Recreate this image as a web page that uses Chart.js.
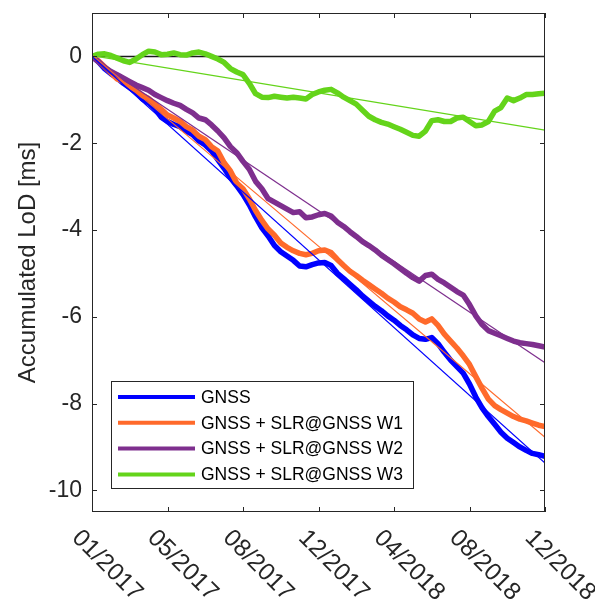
<!DOCTYPE html>
<html>
<head>
<meta charset="utf-8">
<script src="https://cdn.jsdelivr.net/npm/chart.js@4.4.1/dist/chart.umd.min.js"></script>
<style>
  html, body { margin: 0; padding: 0; background: #fff; }
</style>
</head>
<body>
<canvas id="lodChart" width="595" height="604"></canvas>
<script>
// days since 01/01/2017
const days = [0, 10, 20, 30, 40, 50, 60, 70, 80, 90, 100, 110, 120, 130, 140, 150, 160, 170, 180, 190,
    200, 210, 220, 230, 240, 250, 260, 270, 280, 290, 300, 310, 320, 330, 340, 350, 360, 370, 380, 390,
    400, 410, 420, 430, 440, 450, 460, 470, 480, 490, 500, 510, 520, 530, 540, 550, 560, 570, 580, 590,
    600, 610, 620, 630, 640, 650, 660, 670, 680, 690, 700, 710, 720];

const gnss = [0, -0.12, -0.28, -0.40, -0.50, -0.62, -0.72, -0.82, -0.98, -1.07, -1.20, -1.40, -1.50, -1.57,
    -1.62, -1.72, -1.80, -1.95, -2.04, -2.18, -2.38, -2.58, -2.80, -2.98, -3.18, -3.42, -3.70, -3.95,
    -4.14, -4.36, -4.50, -4.60, -4.70, -4.83, -4.85, -4.80, -4.76, -4.75, -4.82, -5.00, -5.12, -5.25,
    -5.38, -5.52, -5.64, -5.76, -5.86, -5.98, -6.08, -6.20, -6.30, -6.42, -6.50, -6.52, -6.48, -6.62,
    -6.82, -7.00, -7.15, -7.30, -7.55, -7.85, -8.10, -8.30, -8.48, -8.66, -8.80, -8.90, -9.00, -9.08,
    -9.15, -9.18, -9.22];

const slrW1 = [0, -0.10, -0.24, -0.38, -0.52, -0.58, -0.68, -0.78, -0.90, -0.97, -1.10, -1.22, -1.35, -1.42,
    -1.50, -1.62, -1.70, -1.84, -1.92, -2.08, -2.18, -2.45, -2.64, -2.92, -3.05, -3.28, -3.55, -3.78,
    -3.98, -4.12, -4.30, -4.40, -4.48, -4.54, -4.57, -4.54, -4.48, -4.46, -4.52, -4.68, -4.82, -4.95,
    -5.05, -5.16, -5.26, -5.36, -5.46, -5.57, -5.66, -5.77, -5.84, -5.92, -6.05, -6.12, -6.05, -6.20,
    -6.40, -6.56, -6.72, -6.90, -7.10, -7.38, -7.65, -7.90, -8.05, -8.14, -8.22, -8.30, -8.36, -8.40,
    -8.45, -8.50, -8.53];

const slrW2 = [0, -0.12, -0.25, -0.35, -0.42, -0.50, -0.58, -0.66, -0.72, -0.78, -0.88, -0.95, -1.02, -1.08,
    -1.13, -1.22, -1.30, -1.42, -1.46, -1.58, -1.72, -1.88, -2.08, -2.22, -2.42, -2.60, -2.88, -3.05,
    -3.28, -3.36, -3.44, -3.52, -3.60, -3.58, -3.72, -3.70, -3.65, -3.62, -3.68, -3.82, -3.92, -4.04,
    -4.15, -4.27, -4.36, -4.46, -4.58, -4.68, -4.78, -4.89, -5.00, -5.10, -5.18, -5.05, -5.02, -5.14,
    -5.22, -5.32, -5.42, -5.50, -5.72, -5.98, -6.18, -6.32, -6.38, -6.44, -6.50, -6.56, -6.60, -6.62,
    -6.64, -6.67, -6.70];

const slrW3 = [0, 0.05, 0.06, 0.02, -0.04, -0.10, -0.14, -0.06, 0.04, 0.12, 0.10, 0.04, 0.05, 0.08,
    0.04, 0.03, 0.08, 0.10, 0.06, 0.0, -0.06, -0.14, -0.28, -0.36, -0.42, -0.62, -0.86, -0.94,
    -0.95, -0.92, -0.94, -0.96, -0.94, -0.96, -0.98, -0.88, -0.82, -0.78, -0.76, -0.84, -0.94, -1.02,
    -1.10, -1.24, -1.38, -1.46, -1.52, -1.56, -1.62, -1.68, -1.75, -1.82, -1.84, -1.72, -1.48, -1.46,
    -1.50, -1.50, -1.42, -1.40, -1.50, -1.60, -1.58, -1.50, -1.26, -1.18, -0.96, -1.02, -0.96, -0.88,
    -0.88, -0.86, -0.85];

// linear trends (start / end of the period)
const trendDays = [0, 720];
const gnssTrend = [0, -9.37];
const slrW1Trend = [0.03, -8.78];
const slrW2Trend = [-0.05, -7.06];
const slrW3Trend = [0.02, -1.70];

const seriesNames = ['GNSS', 'GNSS + SLR@GNSS W1', 'GNSS + SLR@GNSS W2', 'GNSS + SLR@GNSS W3'];
const seriesColors = ['#0000ff', '#ff6a2b', '#7e2f8e', '#64d41a'];

const xTickDays = [0, 120, 240, 360, 480, 600, 720];
const xTickLabels = ['01/2017', '05/2017', '08/2017', '12/2017', '04/2018', '08/2018', '12/2018'];
const yTicks = [0, -2, -4, -6, -8, -10];

const axisColor = '#262626';
const fontFamily = '"Liberation Sans", Arial, Helvetica, sans-serif';

const toPoints = function (xs, ys) {
    return xs.map((d, i) => ({x: d, y: ys[i]}));
};

const dataLine = function (label, values, color, order) {
    return {
        label: label,
        data: toPoints(days, values),
        borderColor: color,
        backgroundColor: color,
        borderWidth: 5.5,
        borderJoinStyle: 'round',
        borderCapStyle: 'round',
        pointRadius: 0,
        tension: 0,
        order: order
    };
};

const trendLine = function (values, color) {
    return {
        label: '',
        isTrend: true,
        data: toPoints(trendDays, values),
        borderColor: color,
        borderWidth: 1.2,
        pointRadius: 0,
        order: 0
    };
};

// no extra label padding, the plot box is fixed
const fixBox = function (size) {
    return function (s) {
        if (s.isHorizontal()) { s.height = size; } else { s.width = size; }
        s.paddingTop = 0; s.paddingBottom = 0; s.paddingLeft = 0; s.paddingRight = 0;
    };
};

// MATLAB style box, inward ticks, rotated date labels and legend
const axesBox = {
    id: 'axesBox',
    afterDraw(chart) {
        const {ctx, chartArea: a, scales: {x, y}} = chart;
        ctx.save();
        ctx.strokeStyle = axisColor;
        ctx.lineWidth = 1;
        ctx.strokeRect(a.left + 0.5, a.top + 0.5, a.width - 1, a.height - 1);

        ctx.beginPath();
        y.ticks.forEach(t => {
            const py = Math.round(y.getPixelForValue(t.value)) + 0.5;
            ctx.moveTo(a.left, py); ctx.lineTo(a.left + 5, py);
            ctx.moveTo(a.right, py); ctx.lineTo(a.right - 5, py);
        });
        x.ticks.forEach(t => {
            const px = Math.round(x.getPixelForValue(t.value)) + 0.5;
            ctx.moveTo(px, a.bottom); ctx.lineTo(px, a.bottom - 5);
            ctx.moveTo(px, a.top); ctx.lineTo(px, a.top + 5);
        });
        ctx.stroke();

        ctx.fillStyle = axisColor;
        ctx.font = '24.5px ' + fontFamily;
        ctx.textAlign = 'left';
        ctx.textBaseline = 'alphabetic';
        x.ticks.forEach((t, i) => {
            const px = x.getPixelForValue(t.value);
            ctx.save();
            ctx.translate(px - 21, a.bottom + 27);
            ctx.rotate(Math.PI / 4);
            ctx.fillText(xTickLabels[i], 0, 0);
            ctx.restore();
        });

        // legend
        const lx = 111, ly = 381, lw = 302, lh = 107;
        ctx.fillStyle = '#fff';
        ctx.fillRect(lx, ly, lw, lh);
        ctx.strokeRect(lx + 0.5, ly + 0.5, lw, lh);
        ctx.font = '17.5px ' + fontFamily;
        ctx.textBaseline = 'middle';
        const entries = chart.data.datasets.filter(ds => !ds.isTrend && ds.label);
        entries.forEach((ds, i) => {
            const ry = ly + 16 + i * 25.8;
            ctx.strokeStyle = ds.borderColor;
            ctx.lineWidth = 4;
            ctx.beginPath();
            ctx.moveTo(118, ry); ctx.lineTo(195, ry);
            ctx.stroke();
            ctx.fillStyle = '#000';
            ctx.fillText(ds.label, 201, ry + 1);
        });
        ctx.restore();
    }
};

new Chart(document.getElementById('lodChart'), {
    type: 'line',
    data: {
        datasets: [
            {
                label: '',
                isTrend: true,
                data: toPoints(trendDays, [0, 0]),
                borderColor: '#1a1a1a',
                borderWidth: 1.5,
                pointRadius: 0,
                order: 10
            },
            dataLine(seriesNames[0], gnss, seriesColors[0], 8),
            dataLine(seriesNames[1], slrW1, seriesColors[1], 7),
            dataLine(seriesNames[2], slrW2, seriesColors[2], 6),
            dataLine(seriesNames[3], slrW3, seriesColors[3], 5),
            trendLine(gnssTrend, seriesColors[0]),
            trendLine(slrW1Trend, seriesColors[1]),
            trendLine(slrW2Trend, seriesColors[2]),
            trendLine(slrW3Trend, seriesColors[3])
        ]
    },
    options: {
        responsive: false,
        animation: false,
        layout: {padding: {top: 13, right: 50, bottom: 0, left: 0}},
        plugins: {
            legend: {display: false},
            tooltip: {enabled: false}
        },
        scales: {
            x: {
                type: 'linear',
                min: 0,
                max: 720,
                afterBuildTicks: s => { s.ticks = xTickDays.map(v => ({value: v})); },
                afterFit: fixBox(92),
                grid: {display: false, drawTicks: false},
                border: {display: false},
                ticks: {display: false}
            },
            y: {
                min: -10.5,
                max: 1,
                afterBuildTicks: s => { s.ticks = yTicks.map(v => ({value: v})); },
                afterFit: fixBox(92),
                grid: {display: false, drawTicks: false},
                border: {display: false},
                ticks: {
                    color: axisColor,
                    padding: 10,
                    font: {family: fontFamily, size: 23}
                },
                title: {
                    display: true,
                    text: 'Accumulated LoD [ms]',
                    color: axisColor,
                    padding: {top: 14, bottom: 0},
                    font: {family: fontFamily, size: 24}
                }
            }
        }
    },
    plugins: [axesBox]
});
</script>
</body>
</html>
